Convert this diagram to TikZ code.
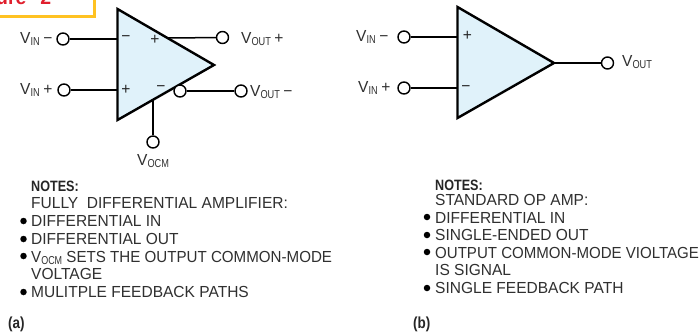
\documentclass[tikz,border=0pt]{standalone}
\usepackage{fontspec}
\setmainfont[FakeStretch=0.97]{Liberation Sans}
\newfontfamily\heavyfont[FakeStretch=0.84]{Liberation Sans Bold}
\newfontfamily\subfont[FakeStretch=0.8]{Liberation Sans}
\definecolor{ampfill}{HTML}{E0F2FA}
\definecolor{labelgray}{HTML}{303030}
\definecolor{figyellow}{HTML}{FFC222}
\definecolor{figred}{HTML}{E01F2D}
\newcommand{\vlab}[2]{V\raisebox{-2.5pt}{\fontsize{11.5}{12}\subfont #1}\kern3.5pt #2}
\newcommand{\vsub}[1]{V\raisebox{-2.5pt}{\fontsize{11.5}{12}\subfont #1}}
\begin{document}
\begin{tikzpicture}[x=1pt,y=-1pt,
  amp/.style={draw=black,fill=ampfill,line width=2.4pt,line join=miter},
  wire/.style={draw=black,line width=1.5pt},
  term/.style={circle,draw=black,fill=white,line width=1.4pt,minimum size=12pt,inner sep=0pt},
  lab/.style={anchor=base west,inner sep=0pt,text=labelgray,font=\fontsize{16}{16}\selectfont},
  sign/.style={anchor=center,inner sep=0pt,text=black!85,font=\fontsize{16}{16}\selectfont},
  noteline/.style={anchor=base west,inner sep=0pt,text=labelgray,font=\fontsize{16}{16}\selectfont},
  notehead/.style={anchor=base west,inner sep=0pt,text=black!85,font=\fontsize{15}{15}\heavyfont},
  caption/.style={anchor=base west,inner sep=0pt,text=black!85,font=\fontsize{16}{16}\heavyfont},
  dot/.style={circle,fill=black,inner sep=0pt,minimum size=6.5pt}]
\useasboundingbox (0,0) rectangle (699,335);
\fill[white] (0,0) rectangle (699,335);
% figure tag
\draw[draw=figyellow,line width=2.2pt] (-5,16.5) -- (94.5,16.5) -- (94.5,-5);
\node[anchor=base west,inner sep=0pt,text=figred,font=\fontsize{20}{20}\bfseries] (fig) at (-4,4) {ure\hspace{14pt}2};
% amplifier a
\path[amp] (117.5,9) coordinate (aT) -- (214,65) coordinate (aR) -- (117.5,120) coordinate (aB) -- cycle;
\coordinate (aI1) at (117.5,39);
\coordinate (aI2) at (117.5,90);
\coordinate (aO1) at (167,38);
\coordinate (aC) at (153,100);
\node[term] (a1) at (63,39) {};
\node[term] (a2) at (64,90) {};
\node[term] (a3) at (222.5,37.5) {};
\node[term] (a4) at (180,91) {};
\node[term] (a5) at (241,91) {};
\node[term] (a6) at (153,142) {};
\draw[wire] (a1) -- (aI1);
\draw[wire] (a2) -- (aI2);
\draw[wire] (aO1) -- (a3);
\draw[wire] (a4) -- (a5);
\draw[wire] (aC) -- (a6);
\node[sign] (as1) at (126,38.5) {−};
\node[sign] (as2) at (155,39.5) {+};
\node[sign] (as3) at (126,89.5) {+};
\node[sign] (as4) at (161,88.5) {−};
\node[lab] (al1) at (20,43) {\vlab{IN}{−}};
\node[lab] (al2) at (20,94) {\vlab{IN}{+}};
\node[lab] (al3) at (241,43) {\vlab{OUT}{+}};
\node[lab] (al4) at (250,96) {\vlab{OUT}{−}};
\node[lab] (al5) at (137,165) {\vsub{OCM}};
% amplifier b
\path[amp] (457.5,7) coordinate (bT) -- (554,63) coordinate (bR) -- (457.5,118) coordinate (bB) -- cycle;
\coordinate (bI1) at (457.5,37);
\coordinate (bI2) at (457.5,88);
\node[term] (b1) at (404,37) {};
\node[term] (b2) at (404,88) {};
\node[term] (b3) at (607.5,63) {};
\draw[wire] (b1) -- (bI1);
\draw[wire] (b2) -- (bI2);
\draw[wire] (bR) -- (b3);
\node[sign] (bs1) at (467.5,36) {+};
\node[sign] (bs2) at (466,88.5) {−};
\node[lab] (bl1) at (356,41) {\vlab{IN}{−}};
\node[lab] (bl2) at (358,92) {\vlab{IN}{+}};
\node[lab] (bl3) at (622,66) {\vsub{OUT}};
% notes a
\node[notehead] (na0) at (31,191) {NOTES:};
\node[noteline] (na1) at (31,208) {FULLY\ \ DIFFERENTIAL AMPLIFIER:};
\node[noteline] (na2) at (31,226) {DIFFERENTIAL IN};
\node[noteline] (na3) at (31,244) {DIFFERENTIAL OUT};
\node[noteline] (na4) at (31,262) {\scalebox{0.975}[1]{\vsub{OCM}\ SETS THE OUTPUT COMMON-MODE}};
\node[noteline] (na5) at (31,279) {VOLTAGE};
\node[noteline] (na6) at (31,297) {MULITPLE FEEDBACK PATHS};
\node[dot] (da2) at (23.5,221) {};
\node[dot] (da3) at (23.5,239) {};
\node[dot] (da4) at (23.5,256) {};
\node[dot] (da6) at (23.5,292) {};
\node[caption] (capa) at (8,328) {(a)};
% notes b
\node[notehead] (nb0) at (435,190) {NOTES:};
\node[noteline] (nb1) at (435,205) {STANDARD OP AMP:};
\node[noteline] (nb2) at (435,223) {DIFFERENTIAL IN};
\node[noteline] (nb3) at (435,240) {SINGLE-ENDED OUT};
\node[noteline] (nb4) at (435,258) {\scalebox{0.97}[1]{OUTPUT COMMON-MODE VIOLTAGE}};
\node[noteline] (nb5) at (435,275) {IS SIGNAL};
\node[noteline] (nb6) at (435,293) {SINGLE FEEDBACK PATH};
\node[dot] (db2) at (427,217) {};
\node[dot] (db3) at (427,235) {};
\node[dot] (db4) at (427,252) {};
\node[dot] (db6) at (427,288) {};
\node[caption] (capb) at (413,328) {(b)};
\end{tikzpicture}
\end{document}
